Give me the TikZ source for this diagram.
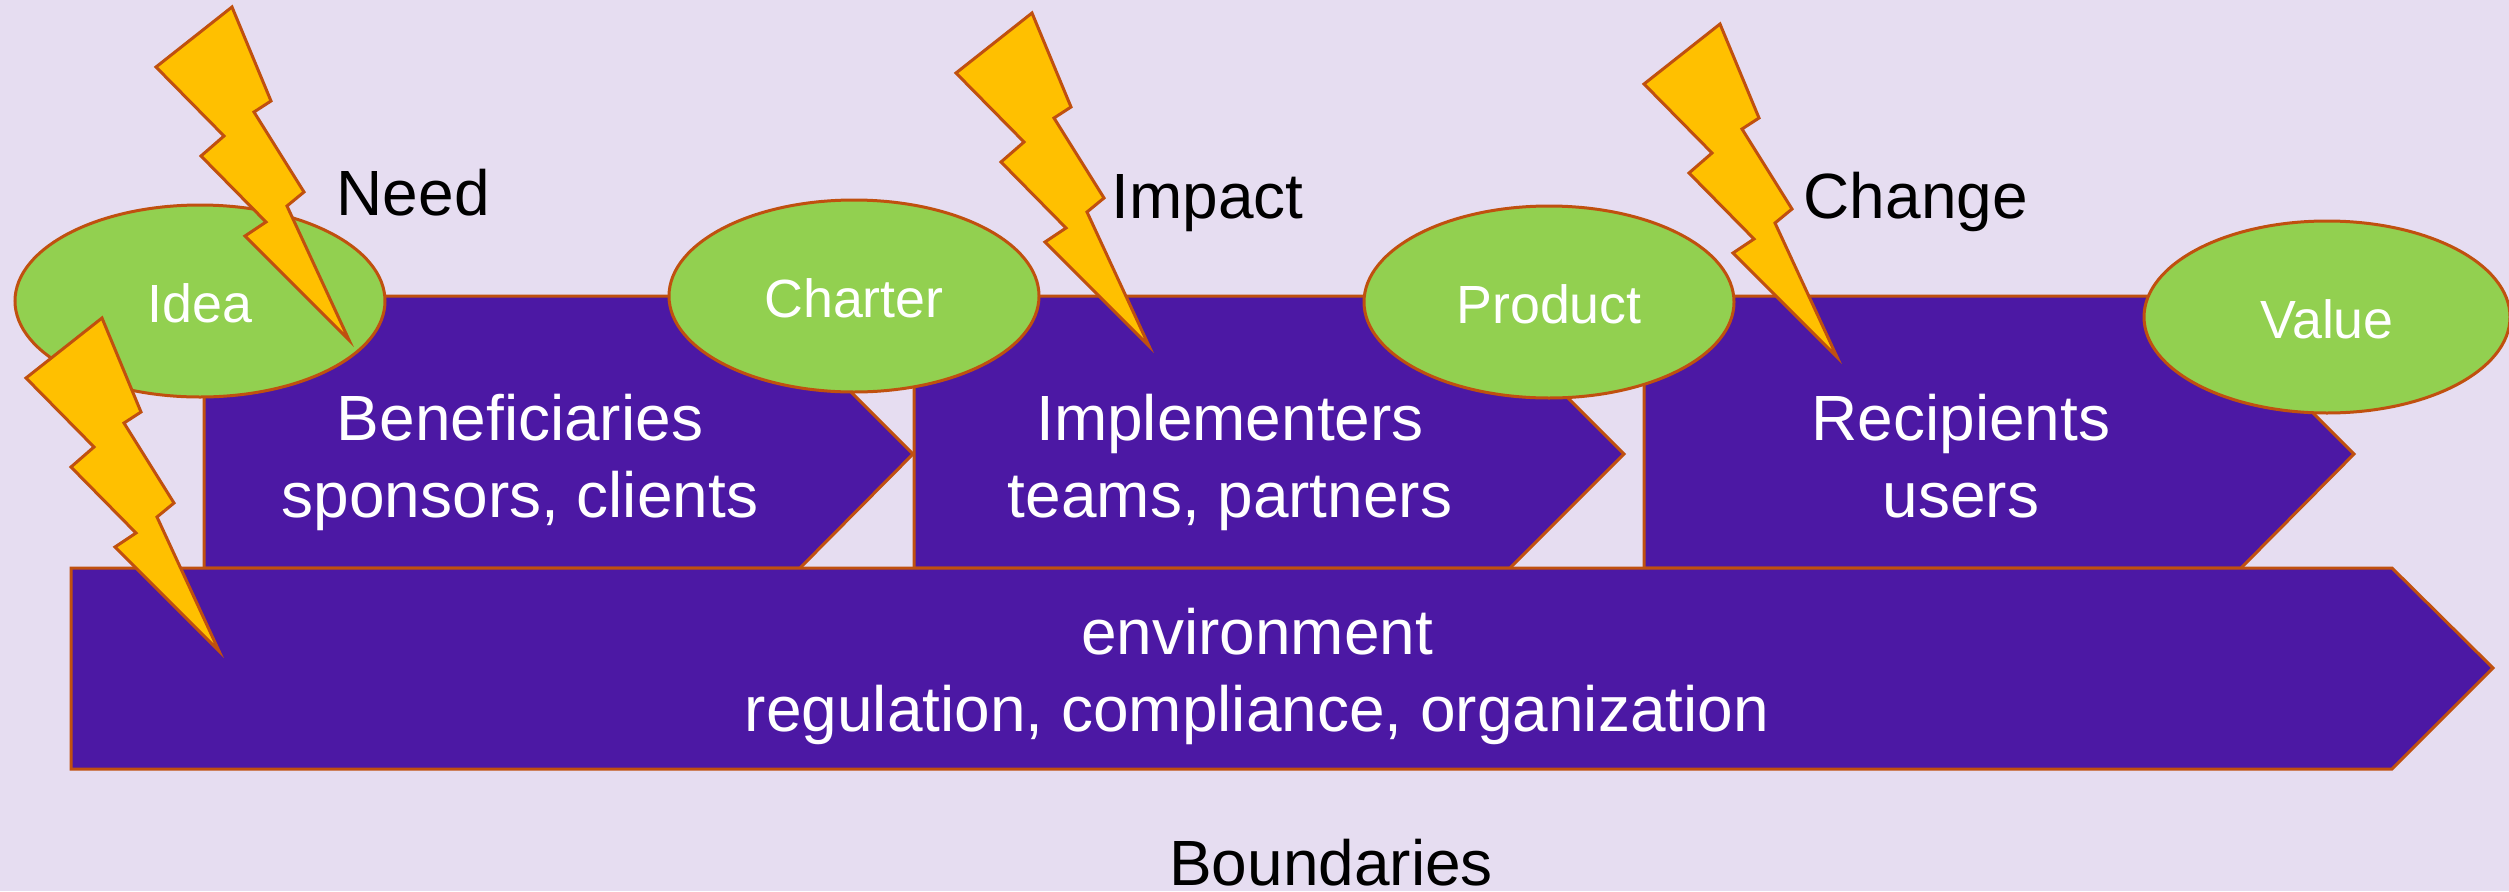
\documentclass[tikz,border=0pt]{standalone}
\usepackage{fontspec}
\setmainfont{Liberation Sans}
\usepackage{xcolor}
\usetikzlibrary{shapes.geometric}

\definecolor{bgpurple}{HTML}{E6DDF1}
\definecolor{bandpurple}{HTML}{4C18A4}
\definecolor{rimorange}{HTML}{C0500F}
\definecolor{ovalgreen}{HTML}{92D050}
\definecolor{boltyellow}{HTML}{FFC000}

\tikzset{
  band/.style={draw=rimorange, fill=bandpurple, line width=0.03cm},
  bandtext/.style={text=white, align=center, font=\fontsize{18.2}{21.9}\selectfont},
  oval/.style={ellipse, draw=rimorange, fill=ovalgreen, line width=0.03cm, inner sep=0pt,
    minimum width=3.70cm, minimum height=1.92cm, text=white, text height=0.42cm, text depth=0pt,
    font=\fontsize{15.3}{18}\selectfont},
  caption/.style={text=black, inner sep=0pt, font=\fontsize{18.2}{21.9}\selectfont},
  bolt/.pic={
    \draw [draw=rimorange, fill=boltyellow, line width=0.03cm, line join=miter]
      (0,0) -- (0.39,-0.94) -- (0.22,-1.05) -- (0.72,-1.85) -- (0.55,-1.99) -- (1.17,-3.33)
      -- (0.13,-2.29) -- (0.34,-2.15) -- (-0.31,-1.49) -- (-0.08,-1.29) -- (-0.76,-0.60) -- cycle;
  }
}

\begin{document}
\begin{tikzpicture}
            \useasboundingbox (0,0) rectangle (25.09,8.91);
            \fill [bgpurple] (0,0) rectangle (25.09,8.91);

            \draw [band] (2.04,5.95) -- (7.55,5.95) -- (9.13,4.37) -- (8.00,3.23) -- (2.04,3.23) -- cycle;
            \draw [band] (9.14,5.95) -- (14.66,5.95) -- (16.24,4.37) -- (15.10,3.23) -- (9.14,3.23) -- cycle;
            \draw [band] (16.44,5.95) -- (21.96,5.95) -- (23.54,4.37) -- (22.41,3.23) -- (16.44,3.23) -- cycle;
            \draw [band] (0.71,3.23) -- (23.92,3.23) -- (24.93,2.23) -- (23.92,1.22) -- (0.71,1.22) -- cycle;

            \node [bandtext] (Beneficiaries) at (5.20,4.29) {Beneficiaries\\sponsors, clients};
            \node [bandtext] (Implementers) at (12.30,4.29) {Implementers\\teams, partners};
            \node [bandtext] (Recipients) at (19.61,4.35) {Recipients\\users};
            \node [bandtext] (Environment) at (12.57,2.15) {environment\\regulation, compliance, organization};

            \node [oval] (Idea) at (2.00,5.90) {Idea};
            \node [oval] (Charter) at (8.54,5.95) {Charter};
            \node [oval] (Product) at (15.49,5.89) {Product};
            \node [oval, minimum width=3.66cm] (Value) at (23.27,5.74) {Value};

            \pic at (2.32,8.84) {bolt};
            \pic at (1.02,5.73) {bolt};
            \pic at (10.32,8.78) {bolt};
            \pic at (17.20,8.67) {bolt};

            \node [caption, anchor=base west] (Need) at (3.36,6.76) {Need};
            \node [caption, anchor=base west] (Impact) at (11.11,6.73) {Impact};
            \node [caption, anchor=base west] (Change) at (18.03,6.73) {Change};
            \node [caption, anchor=base] (Boundaries) at (13.31,0.06) {Boundaries};
\end{tikzpicture}
\end{document}
